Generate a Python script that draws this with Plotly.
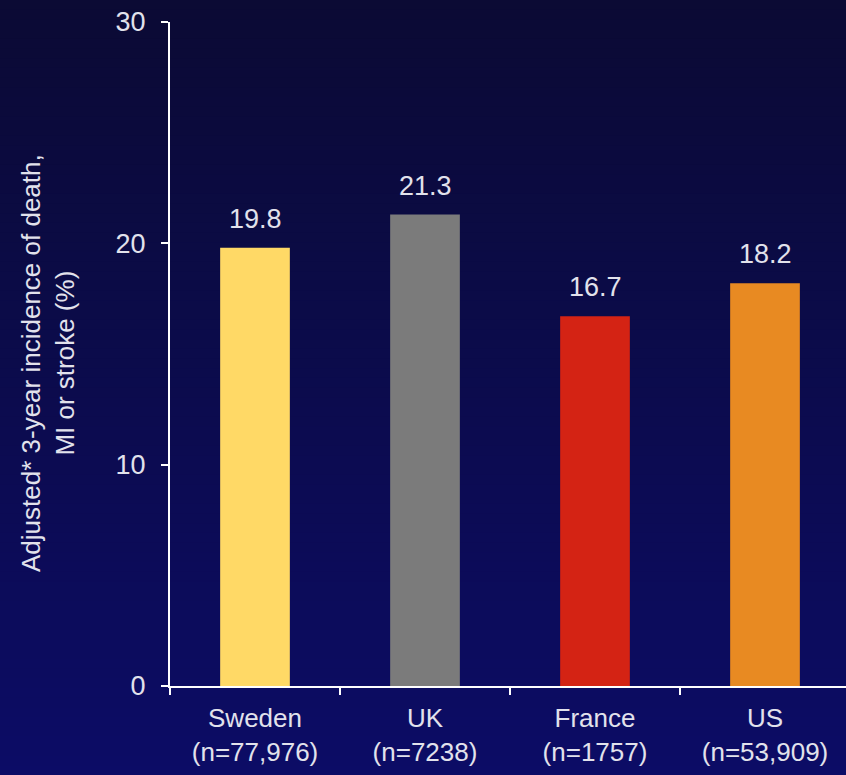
import plotly.graph_objects as go

# Data
countries = ["Sweden", "UK", "France", "US"]
sample_sizes = ["n=77,976", "n=7238", "n=1757", "n=53,909"]
incidence = [19.8, 21.3, 16.7, 18.2]
bar_colors = ["#FFD966", "#7B7B7B", "#D42314", "#E88A22"]
y_ticks = [0, 10, 20, 30]

FONT = "Liberation Sans, Arial, sans-serif"
TEXT_COLOR = "#E2E2EC"

W, H = 846, 775
M_L, M_R, M_T, M_B = 170, 0, 22, 89
plot_w = W - M_L - M_R
plot_h = H - M_T - M_B

labels = [f"{c}<br>({n})" for c, n in zip(countries, sample_sizes)]

fig = go.Figure()
fig.add_trace(go.Bar(
    x=labels,
    y=incidence,
    marker=dict(color=bar_colors, line=dict(width=0)),
    width=0.41,
    hoverinfo="skip",
))

# Value labels above each bar
for lab, v in zip(labels, incidence):
    fig.add_annotation(
        x=lab, y=v, text=f"{v}", showarrow=False,
        xanchor="center", yanchor="bottom", yshift=12,
        font=dict(family=FONT, size=27, color=TEXT_COLOR),
    )

# Rotated y-axis title
fig.add_annotation(
    xref="paper", yref="paper",
    x=(48 - M_L) / plot_w, y=(H - M_B - 363) / plot_h,
    text="Adjusted* 3-year incidence of death,<br>MI or stroke (%)",
    textangle=-90, showarrow=False,
    xanchor="center", yanchor="middle",
    font=dict(family=FONT, size=26, color=TEXT_COLOR),
)

# Vertical navy gradient background drawn as thin bands
top_rgb = (0x0B, 0x0A, 0x34)
bot_rgb = (0x0C, 0x0C, 0x66)
n_bands = 80
shapes = []
for i in range(n_bands):
    py0 = H * i / n_bands
    py1 = H * (i + 1) / n_bands + 1
    t = (i + 0.5) / n_bands
    c = tuple(round(a + (b - a) * t) for a, b in zip(top_rgb, bot_rgb))
    shapes.append(dict(
        type="rect", xref="paper", yref="paper", layer="below",
        x0=-0.4, x1=1.1,
        y0=(H - M_B - py1) / plot_h, y1=(H - M_B - py0) / plot_h,
        fillcolor="rgb(%d,%d,%d)" % c, line=dict(width=0),
    ))

fig.update_layout(
    width=W, height=H,
    margin=dict(l=M_L, r=M_R, t=M_T, b=M_B, pad=0),
    paper_bgcolor="#0B0A34",
    plot_bgcolor="rgba(0,0,0,0)",
    shapes=shapes,
    showlegend=False,
    font=dict(family=FONT, color=TEXT_COLOR),
    xaxis=dict(
        type="category",
        range=[-0.5, 3.5 - 4 / 170],
        showline=True, linecolor="white", linewidth=2,
        ticks="outside", tickson="boundaries", ticklen=7, tickwidth=2, tickcolor="white",
        tickfont=dict(family=FONT, size=26, color=TEXT_COLOR),
        ticklabelstandoff=8,
        showgrid=False, zeroline=False, fixedrange=True,
    ),
    yaxis=dict(
        range=[0, 30],
        tickvals=y_ticks,
        showline=True, linecolor="white", linewidth=2,
        ticks="outside", ticklen=7, tickwidth=2, tickcolor="white",
        tickfont=dict(family=FONT, size=27, color=TEXT_COLOR),
        ticklabelstandoff=10,
        showgrid=False, zeroline=False, fixedrange=True,
    ),
)

fig.write_html("out.html", config={"displayModeBar": False})
